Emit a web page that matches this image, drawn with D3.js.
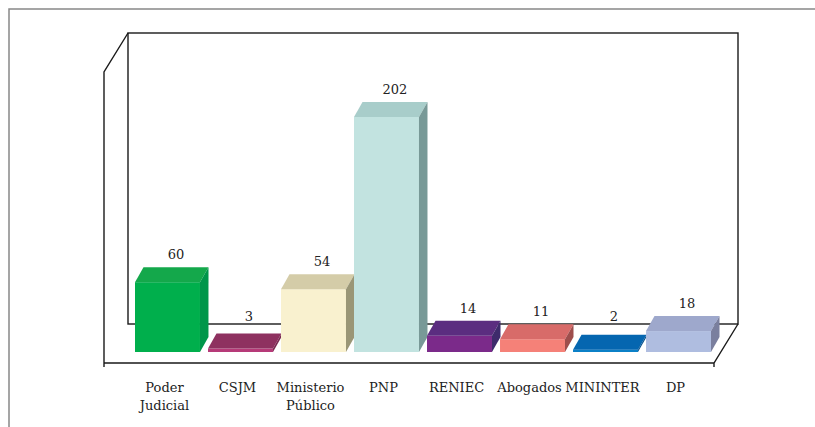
<!DOCTYPE html>
<html>
<head>
<meta charset="utf-8">
<script src="https://cdn.jsdelivr.net/npm/d3@7"></script>
<style>
  body { margin: 0; background: #fff; }
  text { font-family: "DejaVu Serif", serif; fill: #222; }
</style>
</head>
<body>
<div id="chart-area"></div>
<script>
// data
const categories = ['Poder Judicial', 'CSJM', 'Ministerio Público', 'PNP', 'RENIEC', 'Abogados', 'MININTER', 'DP'];
const values = [60, 3, 54, 202, 14, 11, 2, 18];

// face colours per bar: front, top, side
const frontColors = ['#00af4c', '#b63a78', '#f9f1cf', '#c2e3e0', '#7b2a8a', '#f58178', '#0b80c7', '#afbde0'];
const topColors = ['#14a84b', '#8e3160', '#d4cca8', '#a8cdca', '#5b2d80', '#d86b69', '#0566b0', '#9ea8cc'];
const sideColors = ['#00964a', '#7a2a52', '#9a9676', '#789997', '#3e2b6c', '#9e4e4c', '#044f8c', '#7a7f9e'];

window.addEventListener('DOMContentLoaded', () => {

    const width = 815;
    const height = 427;

    const svg = d3.select('#chart-area')
        .append('svg')
        .attr('width', width)
        .attr('height', height);

    // outer frame (only top and left edges visible)
    svg.append('path')
        .attr('d', 'M9,427 L9,9 L815,9')
        .attr('fill', 'none')
        .attr('stroke', '#888')
        .attr('stroke-width', 1.5);

    const base = 352;
    const x = d3.scaleBand()
        .domain(categories)
        .range([135, 711])
        .paddingInner(0.11)
        .paddingOuter(0);

    const y = d3.scaleLinear()
        .domain([0, 202])
        .range([base, 117]);

    // 3D box
    const wall = { x0: 128, x1: 738, top: 33, floor: 324 };
    const wx = 24, wy = 39;
    const box = svg.append('g')
        .attr('fill', 'none')
        .attr('stroke', '#1a1a1a')
        .attr('stroke-width', 1.4);

    box.append('rect')
        .attr('x', wall.x0).attr('y', wall.top)
        .attr('width', wall.x1 - wall.x0)
        .attr('height', wall.floor - wall.top);

    box.append('path')
        .attr('d', `M${wall.x0},${wall.top} L${wall.x0 - wx},${wall.top + wy} L${wall.x0 - wx},${wall.floor + wy + 4}`);

    box.append('path')
        .attr('d', `M${wall.x0 - wx},${wall.floor + wy} L${wall.x1 - wx},${wall.floor + wy} L${wall.x1},${wall.floor}
                    M${wall.x1 - wx},${wall.floor + wy} L${wall.x1 - wx},${wall.floor + wy + 4}`);

    // bars
    const dx = 8.5, dy = 15;
    const bw = x.bandwidth();

    const bars = svg.append('g')
        .selectAll('g')
        .data(values)
        .join('g');

    bars.append('rect')
        .attr('x', (d, i) => x(categories[i]))
        .attr('y', (d) => y(d))
        .attr('width', bw)
        .attr('height', (d) => base - y(d))
        .attr('fill', (d, i) => frontColors[i]);

    bars.append('path')
        .attr('d', (d, i) => {
            const x0 = x(categories[i]);
            const yt = y(d);
            return `M${x0},${yt} L${x0 + dx},${yt - dy} L${x0 + bw + dx},${yt - dy} L${x0 + bw},${yt} Z`;
        })
        .attr('fill', (d, i) => topColors[i]);

    bars.append('path')
        .attr('d', (d, i) => {
            const x1 = x(categories[i]) + bw;
            const yt = y(d);
            return `M${x1},${yt} L${x1 + dx},${yt - dy} L${x1 + dx},${base - dy} L${x1},${base} Z`;
        })
        .attr('fill', (d, i) => sideColors[i]);

    // value labels
    bars.append('text')
        .attr('x', (d, i) => x(categories[i]) + bw / 2 + dx)
        .attr('y', (d) => Math.min(y(d) - dy - 8, 321))
        .attr('text-anchor', 'middle')
        .style('font-size', '13px')
        .text((d) => d);

    // category labels
    svg.append('g')
        .selectAll('text')
        .data(categories)
        .join('text')
        .attr('x', (d) => x(d) + bw / 2 - 3)
        .attr('y', 392)
        .attr('text-anchor', 'middle')
        .style('font-size', '13px')
        .each(function (d) {
            const words = d.split(' ');
            d3.select(this).selectAll('tspan')
                .data(words)
                .join('tspan')
                .attr('x', x(d) + bw / 2 - 3)
                .attr('dy', (w, j) => j === 0 ? 0 : 18)
                .text((w) => w);
        });

}); // End of document ready.
</script>
</body>
</html>
